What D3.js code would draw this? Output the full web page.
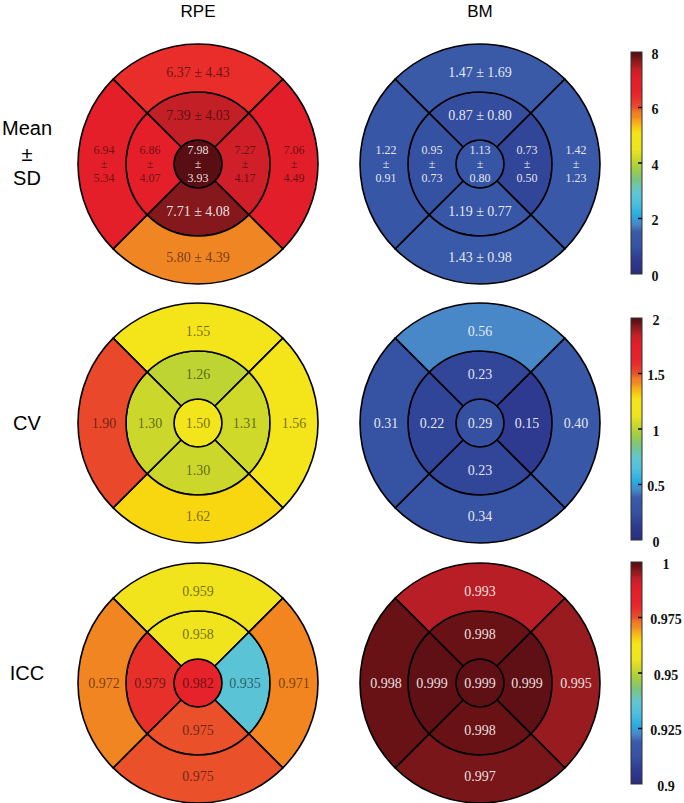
<!DOCTYPE html>
<html><head><meta charset="utf-8">
<script src="https://cdn.jsdelivr.net/npm/d3@7"></script>
<style>
html,body{margin:0;padding:0;background:#fff;}
svg{display:block;}
</style></head>
<body>
<script>
// ---------------- DATA ----------------
// sector order: center, inner top, inner right, inner bottom, inner left, outer top, outer right, outer bottom, outer left
const sectors = ["C","IT","IR","IB","IL","OT","OR","OB","OL"];
const columns = ["RPE","BM"];
const rowLabels = [["Mean","±","SD"],["CV"],["ICC"]];

const rpeMean = [7.98,7.39,7.27,7.71,6.86,6.37,7.06,5.80,6.94];
const rpeSD   = [3.93,4.03,4.17,4.08,4.07,4.43,4.49,4.39,5.34];
const bmMean  = [1.13,0.87,0.73,1.19,0.95,1.47,1.42,1.43,1.22];
const bmSD    = [0.80,0.80,0.50,0.77,0.73,1.69,1.23,0.98,0.91];
const rpeCV   = [1.50,1.26,1.31,1.30,1.30,1.55,1.56,1.62,1.90];
const bmCV    = [0.29,0.23,0.15,0.23,0.22,0.56,0.40,0.34,0.31];
const rpeICC  = [0.982,0.958,0.935,0.975,0.979,0.959,0.971,0.975,0.972];
const bmICC   = [0.999,0.998,0.999,0.998,0.999,0.993,0.995,0.997,0.998];

// colour-bar domains and tick labels
const barDomains = [[0,8],[0,2],[0.9,1]];
const barTicks = [[0,2,4,6,8],[0,0.5,1,1.5,2],[0.9,0.925,0.95,0.975,1]];
const barTickLabels = [["0","2","4","6","8"],["0","0.5","1","1.5","2"],["0.9","0.925","0.95","0.975","1"]];
// colour domains used for the cells
const cellDomains = [[0,8],[0,2.5],[0.9,1]];

// colormap (jet as printed)
const cmapT = [0,0.06,0.125,0.19,0.225,0.26,0.32,0.37,0.43,0.48,0.52,0.56,0.63,0.65,0.69,0.71,0.725,0.75,0.79,0.82,0.88,0.92,0.94,0.96,0.98,1];
const cmapC = ["#2b2d7c","#2e3a8f","#3653a3","#3a5ba9","#4888c9","#27aae1","#4fc0dc","#62c6d2","#7dc57a","#a8cf3c","#cbd82b","#eee41d","#f5e51a","#f8d50f","#f7a41d","#f2851f","#f08523","#ea502a","#e8302b","#e6222b","#e31e29","#c81f27","#a61d23","#8a191d","#681216","#560e12"];

// ---------------- LAYOUT ----------------
const W = 684, H = 803;
const colX = [198, 480];
const rowY = [164, 423, 683];
const rC = 24, rI = 72, rO = 120;
const barX = 631, barW = 11, barH = 222;
const barTop = [52, 318, 562];
const barLabelX = [655, 656, 666];

const cmap = d3.scaleLinear().domain(cmapT).range(cmapC).interpolate(d3.interpolateRgb).clamp(true);

const svg = d3.select("body").append("svg").attr("width", W).attr("height", H);

// column titles
columns.forEach((c,i)=>{
  svg.append("text").attr("x", colX[i]).attr("y", 17).attr("text-anchor","middle")
    .style("font-family","'Liberation Sans', Arial, sans-serif").style("font-size","17px").text(c);
});
// row labels
const rowLabelBase = [[135,161,185],[430],[680]];
rowLabels.forEach((lines,r)=>{
  lines.forEach((t,k)=>{
    svg.append("text").attr("x", 27).attr("y", rowLabelBase[r][k]).attr("text-anchor","middle")
      .style("font-family","'Liberation Sans', Arial, sans-serif").style("font-size","20px").text(t);
  });
});

const panels = [
  {row:0,col:0,vals:rpeMean,sd:rpeSD},
  {row:0,col:1,vals:bmMean,sd:bmSD},
  {row:1,col:0,vals:rpeCV},
  {row:1,col:1,vals:bmCV},
  {row:2,col:0,vals:rpeICC},
  {row:2,col:1,vals:bmICC}
];

const Q = Math.PI/4;
// geometry of sectors: [innerR, outerR, startAngle, endAngle]
function geom(i){
  if(i===0) return [0, rC, 0, 2*Math.PI];
  const ring = i<=4 ? [rC, rI] : [rI, rO];
  const k = (i-1)%4; // 0 top,1 right,2 bottom,3 left
  return [ring[0], ring[1], -Q + k*2*Q, Q + k*2*Q];
}
const arc = d3.arc();
const fmt2 = d3.format(".2f"), fmt3 = d3.format(".3f");

panels.forEach(p=>{
  const cx = colX[p.col], cy = rowY[p.row];
  const norm = d3.scaleLinear().domain(cellDomains[p.row]).range([0,1]);
  const g = svg.append("g").attr("transform",`translate(${cx},${cy})`);
  p.vals.forEach((v,i)=>{
    const [ir,or,sa,ea] = geom(i);
    g.append("path").attr("d", arc({innerRadius:ir, outerRadius:or, startAngle:sa, endAngle:ea}))
      .attr("fill", cmap(norm(v))).attr("stroke","#000").attr("stroke-width",1.6).attr("stroke-linejoin","round");
  });
  p.vals.forEach((v,i)=>{
    const t = norm(v);
    const light = (t < 0.3 || t > 0.928);
    const fill = light ? "#fff" : "#000";
    const op = light ? 0.88 : 0.55;
    let x=0, y=0;
    let vertical = false;
    if(i>0){
      const [ir,or,sa,ea] = geom(i);
      const k = (i-1)%4;
      const rr = i<=4 ? 48 : 94;
      const ang = (sa+ea)/2;
      x = rr*Math.sin(ang); y = -rr*Math.cos(ang);
      if(k===1) x += (i<=4? -1 : 2);
      if(k===0) y += (i<=4? -1 : 2);
      if(k===2) y += (i<=4? -1 : -1);
      vertical = (k===1 || k===3);
    } else vertical = true;
    const fmt = p.row===2 ? fmt3 : fmt2;
    const txt = g.append("text").attr("text-anchor","middle")
      .style("font-family","'Liberation Serif', 'Times New Roman', serif").style("font-size","14px")
      .attr("fill", fill).attr("fill-opacity", op);
    if(p.sd){
      if(vertical){
        const lines = [fmt(v), "±", fmt2(p.sd[i])];
        txt.style("font-size","12px");
        lines.forEach((s,k)=>{
          txt.append("tspan").attr("x", x).attr("y", y + (k-1)*14).attr("dy","0.35em").text(s);
        });
      } else {
        txt.attr("x", x).attr("y", y).attr("dy","0.35em").text(fmt(v)+" ± "+fmt2(p.sd[i]));
      }
    } else {
      txt.attr("x", x).attr("y", y).attr("dy","0.35em").text(fmt(v));
    }
  });
});

// colour bars
const defs = svg.append("defs");
const grad = defs.append("linearGradient").attr("id","cbgrad").attr("x1","0").attr("y1","1").attr("x2","0").attr("y2","0");
d3.range(0,1.0001,0.01).forEach(t=>{
  grad.append("stop").attr("offset", t).attr("stop-color", cmap(t));
});
barDomains.forEach((dom,r)=>{
  const y = d3.scaleLinear().domain(dom).range([barTop[r]+barH, barTop[r]]);
  const g = svg.append("g");
  g.append("rect").attr("x",barX).attr("y",barTop[r]).attr("width",barW).attr("height",barH)
    .attr("fill","url(#cbgrad)").attr("stroke","#333").attr("stroke-width",1);
  barTicks[r].forEach((tv,k)=>{
    if(k>0 && k<barTicks[r].length-1){
      g.append("line").attr("x1",barX+barW-4).attr("x2",barX+barW).attr("y1",y(tv)).attr("y2",y(tv))
        .attr("stroke","#000").attr("stroke-width",1.5);
    }
    g.append("text").attr("x", barLabelX[r]).attr("y", y(tv)+2).attr("dy","0.35em").attr("text-anchor","middle")
      .style("font-family","'Liberation Serif', 'Times New Roman', serif").style("font-size","14px")
      .style("font-weight","bold").attr("fill","#111").text(barTickLabels[r][k]);
  });
});
</script>
</body></html>
